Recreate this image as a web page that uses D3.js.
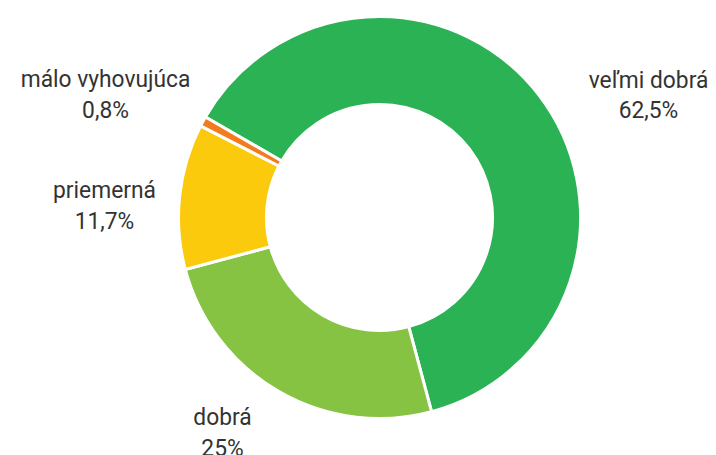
<!DOCTYPE html>
<html>
<head>
<meta charset="utf-8">
<script src="https://cdn.jsdelivr.net/npm/d3@7"></script>
<style>
html,body{margin:0;padding:0;background:#fff;}
svg{display:block;}
</style>
</head>
<body>
<svg id="chart" width="716" height="455"></svg>
<script>
const categories = ["veľmi dobrá", "dobrá", "priemerná", "málo vyhovujúca"];
const values = [62.5, 25, 11.7, 0.8];
const valueLabels = ["62,5%", "25%", "11,7%", "0,8%"];
const colors = ["#2bb255", "#86c342", "#fcca0c", "#f27b1e"];
// label anchor offsets (first baseline) from the centre (layout only)
const labelOffsets = [[269, -130], [-157, 207.5], [-275, -19.5], [-274, -130.5]];

const W = 716, H = 455, cx = 379.5, cy = 217.5, R = 201, r = 113;
const svg = d3.select("#chart");
const g = svg.append("g").attr("transform", `translate(${cx},${cy})`);

const start = -60 * Math.PI / 180;
const pie = d3.pie().sort(null).value(d => d)
  .startAngle(start).endAngle(start + 2 * Math.PI);
const arc = d3.arc().innerRadius(r).outerRadius(R);

const arcs = pie(values);
g.selectAll("path").data(arcs).enter().append("path")
  .attr("d", arc)
  .attr("fill", (d, i) => colors[i])
  .attr("stroke", "#fff")
  .attr("stroke-width", 3)
  .attr("stroke-linejoin", "miter");

const lab = g.selectAll("text.lab").data(arcs).enter().append("text")
  .attr("class", "lab")
  .attr("text-anchor", "middle")
  .attr("font-family", "Roboto, sans-serif")
  .attr("font-size", 24)
  .attr("fill", "#333")
  .attr("transform", (d, i) => `translate(${labelOffsets[i][0]},${labelOffsets[i][1]}) scale(0.95,1)`);
lab.append("tspan").attr("x", 0).attr("y", 0).text((d, i) => categories[i]);
lab.append("tspan").attr("x", 0).attr("y", 31).text((d, i) => valueLabels[i]);
</script>
</body>
</html>
